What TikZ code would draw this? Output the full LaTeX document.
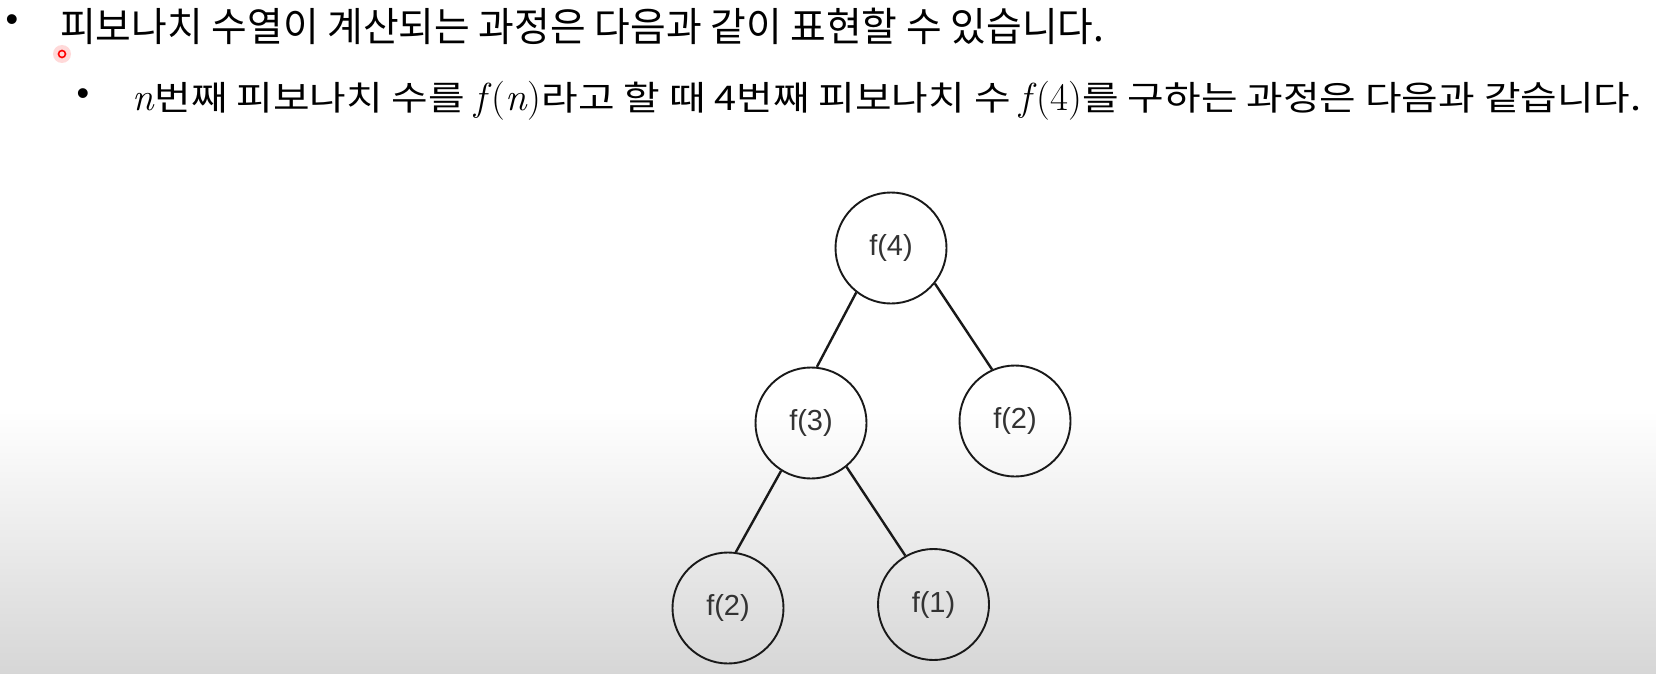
\documentclass[tikz,border=0pt]{standalone}
\usepackage{fontspec}
\newfontfamily\krA[FakeStretch=0.97]{Noto Sans CJK KR}
\newfontfamily\krB[FakeStretch=1.17]{Noto Sans CJK KR}
\newfontfamily\lab{Liberation Sans}
\newcommand{\mi}[1]{{\rmfamily\fontsize{39}{40}\selectfont\itshape #1\/}}
\newcommand{\mr}[1]{{\rmfamily\fontsize{39}{40}\selectfont #1}}
\begin{document}
\begin{tikzpicture}[x=1pt,y=-1pt,
  fnode/.style={circle,draw=black!90,line width=1.9pt,minimum size=111pt,inner sep=0pt,
    font=\lab\fontsize{29}{33}\selectfont,text=black!80},
  edgeline/.style={line width=2.4pt,draw=black!90},
  linetext/.style={anchor=base west,inner sep=0pt,text=black},
  bulletmark/.style={inner sep=0pt,font=\lab\fontsize{36}{36}\selectfont,text=black}]
\useasboundingbox (0,0) rectangle (1656,674);
\fill[white] (0,0) rectangle (1656,410);
\shade[top color=white,bottom color=gray!32] (0,410) rectangle (1656,674);
% text
\node[bulletmark] (b1) at (12,23) {•};
\node[linetext,font=\krA\fontsize{40}{48}\selectfont] (t1) at (60,42) {피보나치 수열이 계산되는 과정은 다음과 같이 표현할 수 있습니다.};
\node[bulletmark] (b2) at (83,97) {•};
\node[linetext,font=\krB\fontsize{34}{40}\selectfont] (t2) at (132,111) {\mi{n}번째 피보나치 수를 \mi{f}\mr{(}\mi{n}\mr{)}라고 할 때 4번째 피보나치 수 \mi{f}\mr{(4)}를 구하는 과정은 다음과 같습니다.};
% cursor mark
\fill[red!15] (62,54) circle (9);
\draw[red,line width=1.6pt] (62,54) circle (3.5);
% tree
\node[fnode] (f4) at (891,248) {f(4)};
\node[fnode] (f3) at (811,423) {f(3)};
\node[fnode] (f2a) at (1015,421) {f(2)};
\node[fnode] (f2b) at (728,608) {f(2)};
\node[fnode] (f1) at (933.5,604.5) {f(1)};
\draw[edgeline] (f4.232.5) -- (f3.84);
\draw[edgeline] (f4.-39.6) -- (f2a.114);
\draw[edgeline] (f3.238.5) -- (f2b.82);
\draw[edgeline] (f3.-51.6) -- (f1.120.4);
\end{tikzpicture}
\end{document}
